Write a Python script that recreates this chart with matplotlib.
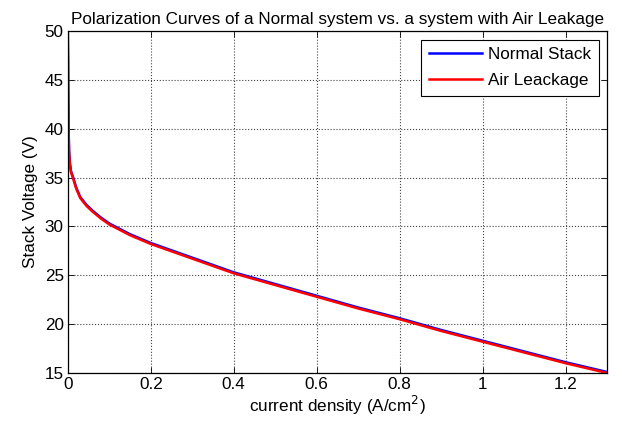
import matplotlib.pyplot as plt
import numpy as np

plt.rcParams['font.family'] = ['Liberation Sans', 'DejaVu Sans']

# current density (A/cm^2) and stack voltage (V)
current_density = [0, 0.0005, 0.001, 0.002, 0.003, 0.005, 0.008, 0.013, 0.02, 0.03,
                   0.045, 0.06, 0.08, 0.1, 0.15, 0.2, 0.3, 0.4, 0.5, 0.6,
                   0.7, 0.8, 0.9, 1.0, 1.1, 1.2, 1.3]
v_normal = [51.0, 48.0, 44.0, 40.0, 37.8, 36.5, 35.6, 35.0, 34.0, 33.0,
            32.2, 31.6, 30.9, 30.3, 29.2, 28.3, 26.8, 25.3, 24.1, 22.9,
            21.7, 20.6, 19.4, 18.3, 17.2, 16.1, 15.1]
v_leak = [48.4, 47.0, 43.5, 39.7, 37.6, 36.3, 35.5, 34.9, 33.9, 32.9,
          32.1, 31.5, 30.8, 30.2, 29.1, 28.2, 26.7, 25.2, 24.0, 22.8,
          21.6, 20.5, 19.3, 18.2, 17.1, 16.0, 15.0]

fs = 12.3

fig = plt.figure(figsize=(6.22, 4.30), dpi=100)
ax = fig.add_axes([0.109, 0.1326, 0.867, 0.7954])

ax.plot(current_density, v_normal, color='#0000ff', lw=1.8, label='Normal Stack')
ax.plot(current_density, v_leak, color='#ff0000', lw=1.8, label='Air Leackage')

ax.set_xlim(0, 1.3)
ax.set_ylim(15, 50)
ax.set_xticks(np.arange(0, 1.3, 0.2))
ax.set_xticklabels(['0', '0.2', '0.4', '0.6', '0.8', '1', '1.2'])
ax.set_yticks(range(15, 51, 5))

ax.grid(True, color='#444444', linestyle=':', linewidth=0.8)
ax.tick_params(direction='in', top=True, right=True, labelsize=fs, length=4, width=0.6, pad=3)
for s in ax.spines.values():
    s.set_linewidth(0.9)

ax.set_xlabel('current density (A/cm$^2$)', fontsize=fs, labelpad=1)
ax.set_ylabel('Stack Voltage (V)', fontsize=fs, labelpad=5)
ax.set_title('Polarization Curves of a Normal system vs. a system with Air Leakage',
             fontsize=fs, pad=5)

leg = ax.legend(loc='upper right', fontsize=fs, fancybox=False, framealpha=1,
                edgecolor='black', borderaxespad=0.5, handlelength=3.1,
                borderpad=0.45, labelspacing=0.65, handletextpad=0.35)
leg.get_frame().set_linewidth(0.8)

fig.savefig('out.png', dpi=100)
